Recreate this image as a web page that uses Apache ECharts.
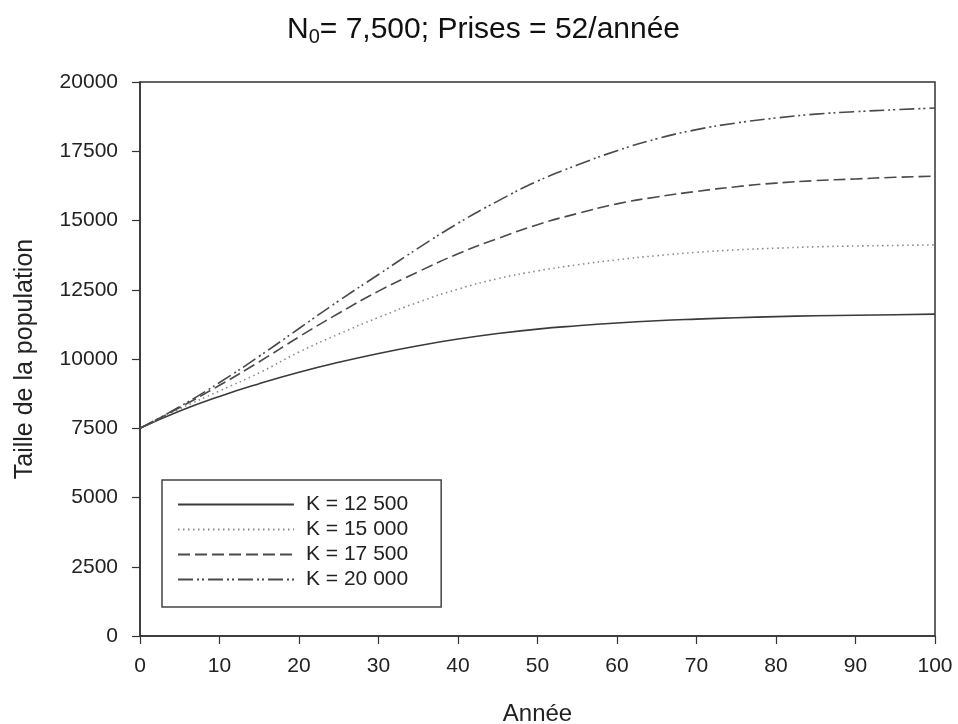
<!DOCTYPE html>
<html>
<head>
<meta charset="utf-8">
<script src="https://cdn.jsdelivr.net/npm/echarts@6/dist/echarts.min.js"></script>
<style>html,body{margin:0;padding:0;background:#fff}#c{width:958px;height:724px}</style>
</head>
<body>
<div id="c"></div>
<script>
const years = [0,5,10,15,20,25,30,35,40,45,50,55,60,65,70,75,80,85,90,95,100];
const seriesNames = ['K = 12 500','K = 15 000','K = 17 500','K = 20 000'];
const k12500 = [7500,8120,8650,9110,9520,9880,10200,10480,10720,10920,11080,11200,11300,11380,11440,11490,11530,11560,11580,11600,11620];
const k15000 = [7500,8200,8850,9500,10250,10900,11500,12050,12520,12900,13180,13400,13580,13730,13850,13940,14000,14050,14080,14100,14120];
const k17500 = [7500,8250,9050,9900,10800,11650,12450,13150,13800,14350,14850,15250,15600,15850,16050,16220,16350,16440,16500,16560,16600];
const k20000 = [7500,8280,9150,10100,11100,12100,13050,14000,14900,15700,16420,17000,17520,17950,18280,18520,18700,18840,18930,19000,19060];
const xTicks = [0,10,20,30,40,50,60,70,80,90,100];
const yTicks = [0,2500,5000,7500,10000,12500,15000,17500,20000];

const values = [k12500,k15000,k17500,k20000];
const styles = [
  {color:'#3a3a3a', width:1.6, type:'solid'},
  {color:'#8a8a8a', width:1.6, type:[1.5,3.5]},
  {color:'#4a4a4a', width:1.6, type:[12,5]},
  {color:'#4a4a4a', width:1.6, type:[15,4,2,3,2,4]}
];
const chart = echarts.init(document.getElementById('c'), null, {renderer:'canvas'});
chart.setOption({
  animation:false,
  backgroundColor:'#fff',
  textStyle:{fontFamily:'Liberation Sans, Arial, sans-serif'},
  title:{
    text:'N{sub|0}= 7,500; Prises = 52/année',
    left:282, top:8,
    textStyle:{fontSize:30, fontWeight:'normal', color:'#111',
      rich:{sub:{fontSize:20, verticalAlign:'bottom', padding:[14,0,0,0], color:'#111'}}}
  },
  grid:{left:140, right:23, top:82, bottom:88, show:true, borderColor:'#333', borderWidth:1.5,
    containLabel:false, outerBoundsMode:'none'},
  legend:{
    orient:'vertical', left:162, top:480,
    data:seriesNames,
    itemWidth:116, itemHeight:14, itemGap:4,
    padding:[14,33,17,15],
    borderColor:'#444', borderWidth:1.5,
    itemStyle:{opacity:0},
    textStyle:{fontSize:21, lineHeight:21, color:'#222', padding:[0,0,0,7]}
  },
  xAxis:{
    type:'value', min:0, max:100, interval:10,
    name:'Année', nameLocation:'middle', nameGap:66,
    nameTextStyle:{fontSize:24, color:'#222'},
    axisLine:{lineStyle:{color:'#333', width:1.5}},
    axisTick:{length:8, lineStyle:{color:'#333', width:1.2}},
    axisLabel:{fontSize:21, color:'#222', margin:20,
      formatter:v => xTicks.includes(v) ? String(v) : ''},
    splitLine:{show:false}
  },
  yAxis:{
    type:'value', min:0, max:20000, interval:2500,
    name:'Taille de la population', nameLocation:'middle', nameGap:102,
    nameTextStyle:{fontSize:25, color:'#222'},
    axisLine:{lineStyle:{color:'#333', width:1.5}},
    axisTick:{length:8, lineStyle:{color:'#333', width:1.2}},
    axisLabel:{fontSize:21, color:'#222', margin:22,
      formatter:v => yTicks.includes(v) ? String(v) : ''},
    splitLine:{show:false}
  },
  series: seriesNames.map((n,i)=>({
    name:n, type:'line', smooth:true, showSymbol:false, symbol:'none',
    data: years.map((y,j)=>[y, values[i][j]]),
    lineStyle:{color:styles[i].color, width:styles[i].width, type:styles[i].type},
    itemStyle:{color:styles[i].color}
  }))
});
</script>
</body>
</html>
